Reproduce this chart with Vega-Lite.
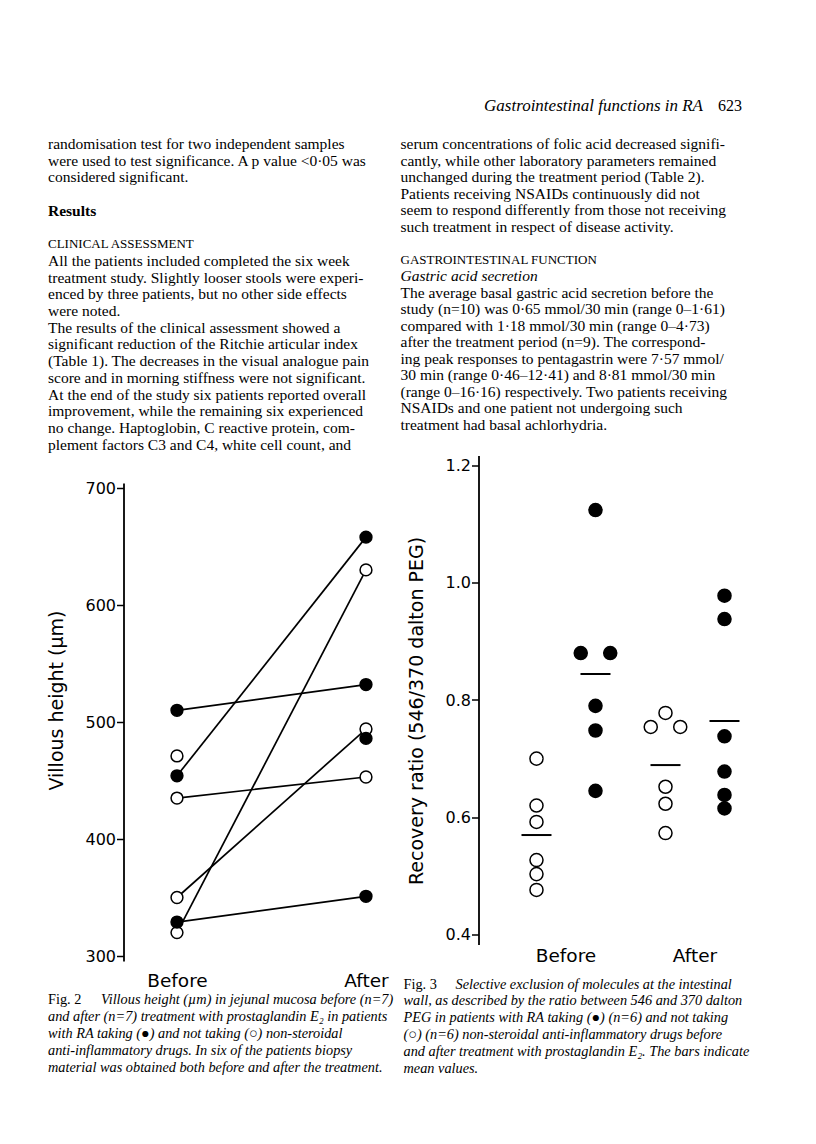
{
  "$schema": "https://vega.github.io/schema/vega-lite/v6.json",
  "background": "white",
  "padding": {"left": 47, "top": 97, "right": 0, "bottom": 0},
  "config": {
    "view": {"stroke": null},
    "font": "Liberation Serif",
    "axis": {
      "labelFont": "DejaVu Sans",
      "titleFont": "DejaVu Sans",
      "labelColor": "black",
      "titleColor": "black",
      "domainColor": "black",
      "tickColor": "black",
      "labelFontSize": 16,
      "titleFontSize": 19,
      "titleFontWeight": "normal",
      "grid": false
    }
  },
  "datasets": {
    "header": [
      {"part": "running head", "text": "Gastrointestinal functions in RA"},
      {"part": "page", "text": "623"}
    ],
    "left_text": [
      {"line": 0, "kind": "paragraph", "text": "randomisation test for two independent samples"},
      {"line": 1, "kind": "paragraph", "text": "were used to test significance. A p value <0·05 was"},
      {"line": 2, "kind": "paragraph", "text": "considered significant."},
      {"line": 4, "kind": "heading", "text": "Results"},
      {"line": 6, "kind": "section", "text": "CLINICAL ASSESSMENT"},
      {"line": 7, "kind": "paragraph", "text": "All the patients included completed the six week"},
      {"line": 8, "kind": "paragraph", "text": "treatment study. Slightly looser stools were experi-"},
      {"line": 9, "kind": "paragraph", "text": "enced by three patients, but no other side effects"},
      {"line": 10, "kind": "paragraph", "text": "were noted."},
      {"line": 11, "kind": "paragraph", "text": "\u00a0\u00a0The results of the clinical assessment showed a"},
      {"line": 12, "kind": "paragraph", "text": "significant reduction of the Ritchie articular index"},
      {"line": 13, "kind": "paragraph", "text": "(Table 1). The decreases in the visual analogue pain"},
      {"line": 14, "kind": "paragraph", "text": "score and in morning stiffness were not significant."},
      {"line": 15, "kind": "paragraph", "text": "At the end of the study six patients reported overall"},
      {"line": 16, "kind": "paragraph", "text": "improvement, while the remaining six experienced"},
      {"line": 17, "kind": "paragraph", "text": "no change. Haptoglobin, C reactive protein, com-"},
      {"line": 18, "kind": "paragraph", "text": "plement factors C3 and C4, white cell count, and"}
    ],
    "right_text": [
      {"line": 0, "kind": "paragraph", "text": "serum concentrations of folic acid decreased signifi-"},
      {"line": 1, "kind": "paragraph", "text": "cantly, while other laboratory parameters remained"},
      {"line": 2, "kind": "paragraph", "text": "unchanged during the treatment period (Table 2)."},
      {"line": 3, "kind": "paragraph", "text": "Patients receiving NSAIDs continuously did not"},
      {"line": 4, "kind": "paragraph", "text": "seem to respond differently from those not receiving"},
      {"line": 5, "kind": "paragraph", "text": "such treatment in respect of disease activity."},
      {"line": 7, "kind": "section", "text": "GASTROINTESTINAL FUNCTION"},
      {"line": 8, "kind": "subsection", "text": "Gastric acid secretion"},
      {"line": 9, "kind": "paragraph", "text": "The average basal gastric acid secretion before the"},
      {"line": 10, "kind": "paragraph", "text": "study (n=10) was 0·65 mmol/30 min (range 0–1·61)"},
      {"line": 11, "kind": "paragraph", "text": "compared with 1·18 mmol/30 min (range 0–4·73)"},
      {"line": 12, "kind": "paragraph", "text": "after the treatment period (n=9). The correspond-"},
      {"line": 13, "kind": "paragraph", "text": "ing peak responses to pentagastrin were 7·57 mmol/"},
      {"line": 14, "kind": "paragraph", "text": "30 min (range 0·46–12·41) and 8·81 mmol/30 min"},
      {"line": 15, "kind": "paragraph", "text": "(range 0–16·16) respectively. Two patients receiving"},
      {"line": 16, "kind": "paragraph", "text": "NSAIDs and one patient not undergoing such"},
      {"line": 17, "kind": "paragraph", "text": "treatment had basal achlorhydria."}
    ],
    "fig2_caption": [
      {"line": 0, "part": "label", "text": "Fig. 2"},
      {"line": 0, "part": "opening", "text": "Villous height (µm) in jejunal mucosa before (n=7)"},
      {"line": 1, "part": "body", "text": "and after (n=7) treatment with prostaglandin E₂ in patients"},
      {"line": 2, "part": "body", "text": "with RA taking (●) and not taking (○) non-steroidal"},
      {"line": 3, "part": "body", "text": "anti-inflammatory drugs. In six of the patients biopsy"},
      {"line": 4, "part": "body", "text": "material was obtained both before and after the treatment."}
    ],
    "fig3_caption": [
      {"line": 0, "part": "label", "text": "Fig. 3"},
      {"line": 0, "part": "opening", "text": "Selective exclusion of molecules at the intestinal"},
      {"line": 1, "part": "body", "text": "wall, as described by the ratio between 546 and 370 dalton"},
      {"line": 2, "part": "body", "text": "PEG in patients with RA taking (●) (n=6) and not taking"},
      {"line": 3, "part": "body", "text": "(○) (n=6) non-steroidal anti-inflammatory drugs before"},
      {"line": 4, "part": "body", "text": "and after treatment with prostaglandin E₂. The bars indicate"},
      {"line": 5, "part": "body", "text": "mean values."}
    ],
    "villous": [
      {"patient": "C", "time": "Before", "height": 435, "nsaid": "not taking"},
      {"patient": "C", "time": "After", "height": 453, "nsaid": "not taking"},
      {"patient": "D", "time": "Before", "height": 350, "nsaid": "not taking"},
      {"patient": "D", "time": "After", "height": 494, "nsaid": "not taking"},
      {"patient": "F", "time": "Before", "height": 320, "nsaid": "not taking"},
      {"patient": "F", "time": "After", "height": 630, "nsaid": "not taking"},
      {"patient": "G", "time": "Before", "height": 471, "nsaid": "not taking"},
      {"patient": "A", "time": "Before", "height": 510, "nsaid": "taking"},
      {"patient": "A", "time": "After", "height": 532, "nsaid": "taking"},
      {"patient": "B", "time": "Before", "height": 454, "nsaid": "taking"},
      {"patient": "B", "time": "After", "height": 658, "nsaid": "taking"},
      {"patient": "E", "time": "Before", "height": 329, "nsaid": "taking"},
      {"patient": "E", "time": "After", "height": 351, "nsaid": "taking"},
      {"patient": "H", "time": "After", "height": 486, "nsaid": "taking"}
    ],
    "recovery": [
      {"time": "Before", "nsaid": "not taking", "slot": "not taking", "ratio": 0.700},
      {"time": "Before", "nsaid": "not taking", "slot": "not taking", "ratio": 0.620},
      {"time": "Before", "nsaid": "not taking", "slot": "not taking", "ratio": 0.592},
      {"time": "Before", "nsaid": "not taking", "slot": "not taking", "ratio": 0.527},
      {"time": "Before", "nsaid": "not taking", "slot": "not taking", "ratio": 0.503},
      {"time": "Before", "nsaid": "not taking", "slot": "not taking", "ratio": 0.476},
      {"time": "After", "nsaid": "not taking", "slot": "not taking", "ratio": 0.778},
      {"time": "After", "nsaid": "not taking", "slot": "not taking, left", "ratio": 0.754},
      {"time": "After", "nsaid": "not taking", "slot": "not taking, right", "ratio": 0.754},
      {"time": "After", "nsaid": "not taking", "slot": "not taking", "ratio": 0.652},
      {"time": "After", "nsaid": "not taking", "slot": "not taking", "ratio": 0.623},
      {"time": "After", "nsaid": "not taking", "slot": "not taking", "ratio": 0.573},
      {"time": "Before", "nsaid": "taking", "slot": "taking", "ratio": 1.124},
      {"time": "Before", "nsaid": "taking", "slot": "taking, left", "ratio": 0.880},
      {"time": "Before", "nsaid": "taking", "slot": "taking, right", "ratio": 0.880},
      {"time": "Before", "nsaid": "taking", "slot": "taking", "ratio": 0.790},
      {"time": "Before", "nsaid": "taking", "slot": "taking", "ratio": 0.748},
      {"time": "Before", "nsaid": "taking", "slot": "taking", "ratio": 0.645},
      {"time": "After", "nsaid": "taking", "slot": "taking", "ratio": 0.978},
      {"time": "After", "nsaid": "taking", "slot": "taking", "ratio": 0.938},
      {"time": "After", "nsaid": "taking", "slot": "taking", "ratio": 0.738},
      {"time": "After", "nsaid": "taking", "slot": "taking", "ratio": 0.678},
      {"time": "After", "nsaid": "taking", "slot": "taking", "ratio": 0.638},
      {"time": "After", "nsaid": "taking", "slot": "taking", "ratio": 0.615}
    ]
  },
  "spacing": 23,
  "vconcat": [
    {
      "width": 622,
      "height": 16,
      "data": {"name": "header"},
      "encoding": {
        "x": {"datum": 1, "type": "quantitative", "scale": {"domain": [0, 1], "nice": false}, "axis": null},
        "text": {"field": "text"}
      },
      "layer": [
        {
          "transform": [{"filter": "datum.part == 'page'"}],
          "mark": {"type": "text", "align": "right", "baseline": "middle", "fontSize": 16, "font": "Liberation Serif", "color": "black"}
        },
        {
          "transform": [{"filter": "datum.part == 'running head'"}],
          "mark": {"type": "text", "align": "right", "baseline": "middle", "fontSize": 17, "font": "Liberation Serif", "fontStyle": "italic", "dx": -39, "color": "black"}
        }
      ]
    },
    {
      "spacing": 6,
      "hconcat": [
        {
          "spacing": 26,
          "vconcat": [
            {
              "width": 1,
              "height": 300.6,
              "data": {"name": "left_text"},
              "encoding": {
                "x": {"datum": 0, "type": "quantitative", "scale": {"domain": [0, 1], "nice": false}, "axis": null},
                "y": {"field": "line", "type": "quantitative", "scale": {"domain": [0, 18], "nice": false, "reverse": true}, "axis": null},
                "text": {"field": "text"}
              },
              "layer": [
                {
                  "transform": [{"filter": "datum.kind == 'paragraph'"}],
                  "mark": {"type": "text", "align": "left", "baseline": "middle", "fontSize": 15.5, "dx": -72, "color": "black"}
                },
                {
                  "transform": [{"filter": "datum.kind == 'heading'"}],
                  "mark": {"type": "text", "align": "left", "baseline": "middle", "fontSize": 15.5, "fontWeight": "bold", "dx": -72, "color": "black"}
                },
                {
                  "transform": [{"filter": "datum.kind == 'section'"}],
                  "mark": {"type": "text", "align": "left", "baseline": "middle", "fontSize": 13, "dx": -72, "color": "black"}
                }
              ]
            },
            {
              "spacing": 3,
              "vconcat": [
                {
                  "width": 266,
                  "height": 478,
                  "data": {"name": "villous"},
                  "encoding": {
                    "x": {
                      "field": "time", "type": "nominal",
                      "scale": {"type": "point", "domain": ["Before", "After"], "padding": 0.2037, "align": 0.74},
                      "axis": {"title": null, "domain": false, "ticks": false, "tickSize": 0, "labelPadding": 10, "labelFontSize": 18.5, "labelAngle": 0}
                    },
                    "y": {
                      "field": "height", "type": "quantitative",
                      "scale": {"domain": [300, 700], "nice": false, "zero": false, "padding": 5},
                      "axis": {"title": "Villous height (µm)", "values": [300, 400, 500, 600, 700], "offset": -3.5, "tickSize": 7, "labelPadding": 1, "titlePadding": 18, "titleY": 217, "domainWidth": 1.8, "tickWidth": 1.5, "labelFlush": false, "labelOverlap": false}
                    }
                  },
                  "layer": [
                    {
                      "mark": {"type": "line", "color": "black", "strokeWidth": 1.7},
                      "encoding": {"detail": {"field": "patient"}}
                    },
                    {
                      "mark": {"type": "point", "shape": "circle", "filled": true, "size": 140, "stroke": "black", "strokeWidth": 1.5, "opacity": 1},
                      "encoding": {
                        "fill": {"field": "nsaid", "type": "nominal", "scale": {"domain": ["taking", "not taking"], "range": ["black", "white"]}, "legend": null}
                      }
                    }
                  ]
                },
                {
                  "width": 1,
                  "height": 68,
                  "data": {"name": "fig2_caption"},
                  "encoding": {
                    "x": {"datum": 0, "type": "quantitative", "scale": {"domain": [0, 1], "nice": false}, "axis": null},
                    "y": {"field": "line", "type": "quantitative", "scale": {"domain": [0, 4], "nice": false, "reverse": true}, "axis": null},
                    "text": {"field": "text"}
                  },
                  "layer": [
                    {
                      "transform": [{"filter": "datum.part == 'label'"}],
                      "mark": {"type": "text", "align": "left", "baseline": "middle", "fontSize": 14.3, "dx": -72, "color": "black"}
                    },
                    {
                      "transform": [{"filter": "datum.part == 'opening'"}],
                      "mark": {"type": "text", "align": "left", "baseline": "middle", "fontSize": 14.3, "fontStyle": "italic", "dx": -19, "color": "black"}
                    },
                    {
                      "transform": [{"filter": "datum.part == 'body'"}],
                      "mark": {"type": "text", "align": "left", "baseline": "middle", "fontSize": 14.3, "fontStyle": "italic", "dx": -72, "color": "black"}
                    }
                  ]
                }
              ]
            }
          ]
        },
        {
          "spacing": 22.5,
          "vconcat": [
            {
              "width": 1,
              "height": 280.5,
              "data": {"name": "right_text"},
              "encoding": {
                "x": {"datum": 0, "type": "quantitative", "scale": {"domain": [0, 1], "nice": false}, "axis": null},
                "y": {"field": "line", "type": "quantitative", "scale": {"domain": [0, 17], "nice": false, "reverse": true}, "axis": null},
                "text": {"field": "text"}
              },
              "layer": [
                {
                  "transform": [{"filter": "datum.kind == 'paragraph'"}],
                  "mark": {"type": "text", "align": "left", "baseline": "middle", "fontSize": 15.5, "dx": -74.5, "color": "black"}
                },
                {
                  "transform": [{"filter": "datum.kind == 'section'"}],
                  "mark": {"type": "text", "align": "left", "baseline": "middle", "fontSize": 13, "dx": -74.5, "color": "black"}
                },
                {
                  "transform": [{"filter": "datum.kind == 'subsection'"}],
                  "mark": {"type": "text", "align": "left", "baseline": "middle", "fontSize": 15.5, "fontStyle": "italic", "dx": -74.5, "color": "black"}
                }
              ]
            },
            {
              "spacing": 12,
              "vconcat": [
                {
                  "width": 291.5,
                  "height": 489,
                  "data": {"name": "recovery"},
                  "encoding": {
                    "x": {
                      "field": "time", "type": "nominal",
                      "scale": {"type": "band", "domain": ["Before", "After"], "paddingInner": 0, "paddingOuter": 0.1298, "align": 0.791},
                      "axis": {"title": null, "domain": false, "ticks": false, "tickSize": 0, "labelPadding": 2, "labelFontSize": 18.5, "labelAngle": 0}
                    },
                    "y": {
                      "field": "ratio", "type": "quantitative",
                      "scale": {"domain": [0.4, 1.2], "nice": false, "zero": false, "padding": 10},
                      "axis": {"title": "Recovery ratio (546/370 dalton PEG)", "values": [0.4, 0.6, 0.8, 1.0, 1.2], "format": ".1f", "offset": -3.5, "tickSize": 7, "labelPadding": 1, "titlePadding": 19, "titleY": 255, "domainWidth": 1.8, "tickWidth": 1.5, "labelFlush": false, "labelOverlap": false}
                    }
                  },
                  "layer": [
                    {
                      "mark": {"type": "point", "shape": "circle", "filled": true, "size": 170, "stroke": "black", "strokeWidth": 1.5, "opacity": 1},
                      "encoding": {
                        "xOffset": {"field": "slot", "type": "nominal", "scale": {"type": "point", "domain": ["not taking, left", "not taking", "not taking, right", "between", "taking, left", "taking", "taking, right"], "range": [20.25, 108.75], "padding": 0}},
                        "fill": {"field": "nsaid", "type": "nominal", "scale": {"domain": ["taking", "not taking"], "range": ["black", "white"]}, "legend": null}
                      }
                    },
                    {
                      "transform": [{"aggregate": [{"op": "mean", "field": "ratio", "as": "ratio"}], "groupby": ["time", "nsaid"]}],
                      "mark": {"type": "tick", "size": 30, "thickness": 2, "color": "black", "opacity": 1},
                      "encoding": {
                        "xOffset": {"field": "nsaid", "type": "nominal", "scale": {"type": "point", "domain": ["not taking, left", "not taking", "not taking, right", "between", "taking, left", "taking", "taking, right"], "range": [20.25, 108.75], "padding": 0}}
                      }
                    }
                  ]
                },
                {
                  "width": 1,
                  "height": 84,
                  "data": {"name": "fig3_caption"},
                  "encoding": {
                    "x": {"datum": 0, "type": "quantitative", "scale": {"domain": [0, 1], "nice": false}, "axis": null},
                    "y": {"field": "line", "type": "quantitative", "scale": {"domain": [0, 5], "nice": false, "reverse": true}, "axis": null},
                    "text": {"field": "text"}
                  },
                  "layer": [
                    {
                      "transform": [{"filter": "datum.part == 'label'"}],
                      "mark": {"type": "text", "align": "left", "baseline": "middle", "fontSize": 14.3, "dx": -71.5, "color": "black"}
                    },
                    {
                      "transform": [{"filter": "datum.part == 'opening'"}],
                      "mark": {"type": "text", "align": "left", "baseline": "middle", "fontSize": 14.3, "fontStyle": "italic", "dx": -19.5, "color": "black"}
                    },
                    {
                      "transform": [{"filter": "datum.part == 'body'"}],
                      "mark": {"type": "text", "align": "left", "baseline": "middle", "fontSize": 14.3, "fontStyle": "italic", "dx": -71.5, "color": "black"}
                    }
                  ]
                }
              ]
            }
          ]
        }
      ]
    }
  ]
}
